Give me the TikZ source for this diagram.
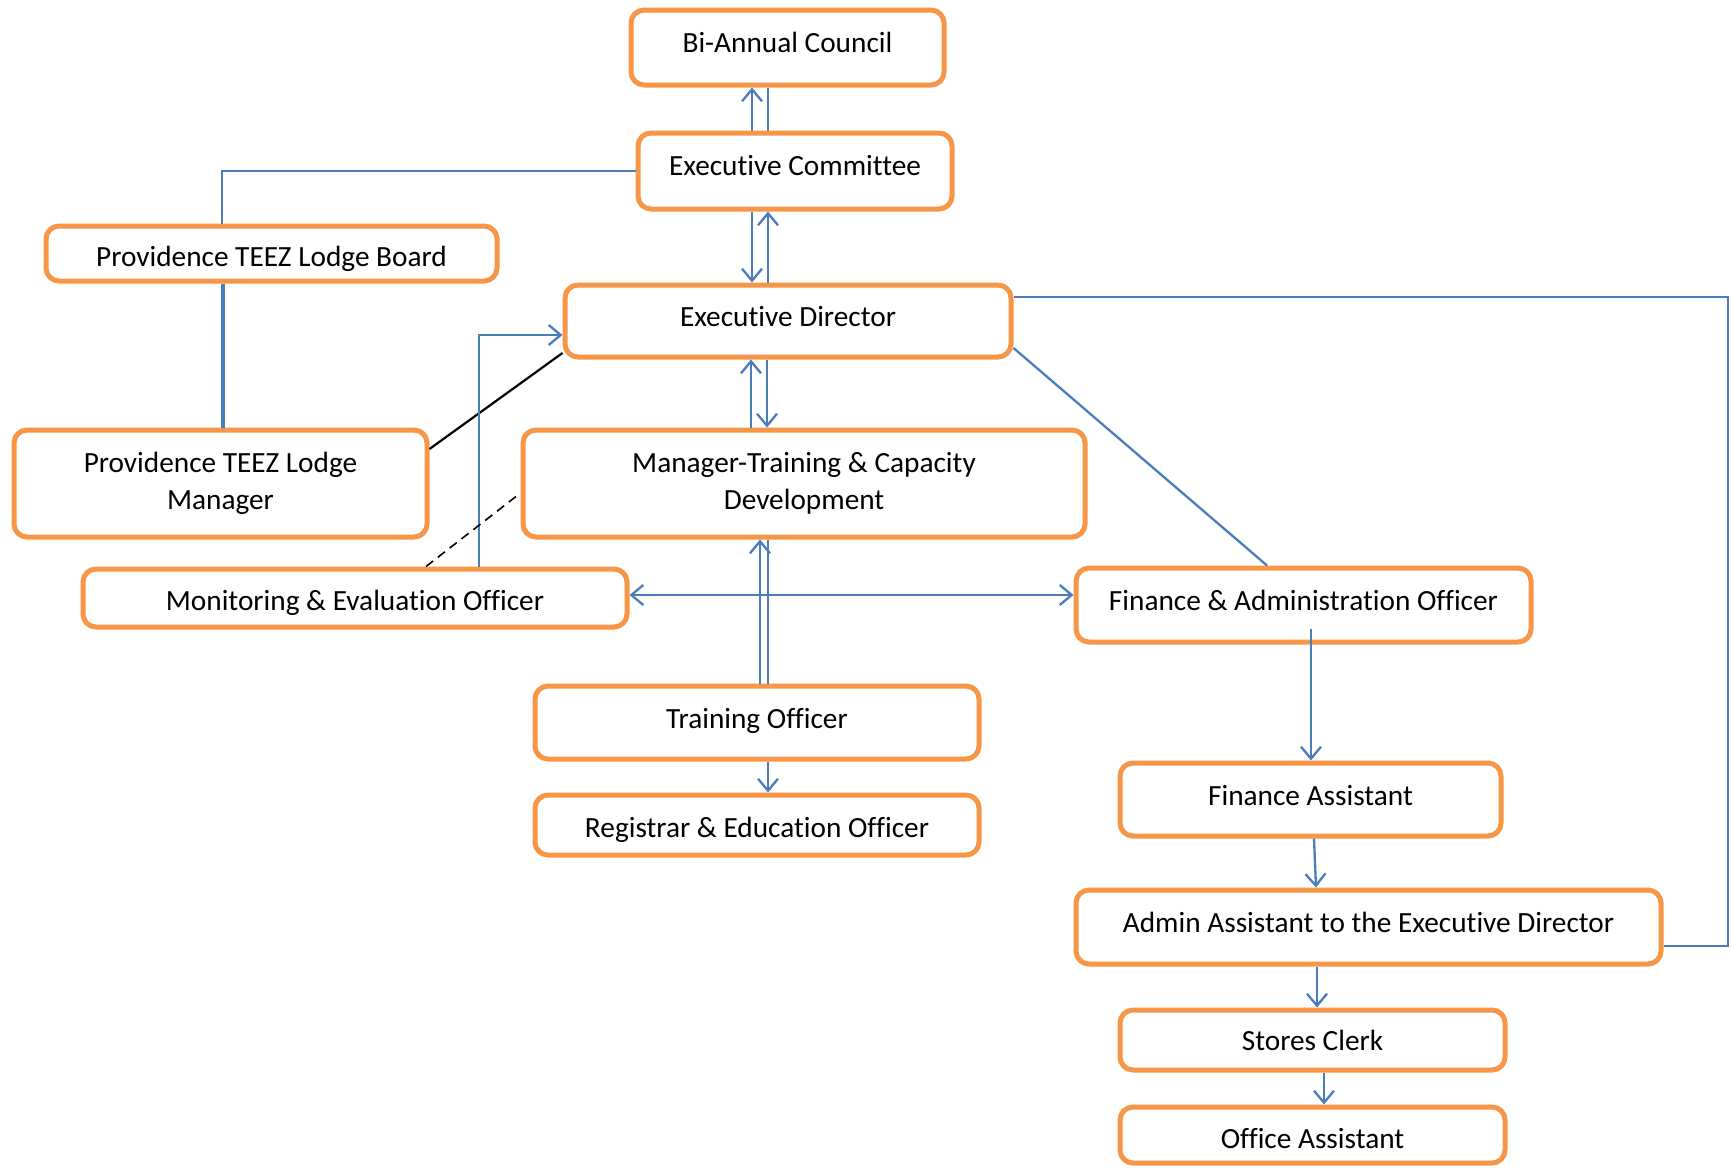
\documentclass[tikz,border=0pt]{standalone}
\usepackage{fontspec}
\setmainfont{Carlito}[Ligatures={NoCommon}]
\usetikzlibrary{arrows.meta}
\definecolor{boxorange}{HTML}{F79646}
\definecolor{lineblue}{HTML}{4A7EBB}
\tikzset{
  box/.style={draw=boxorange, line width=5pt, rounded corners=13pt, fill=white,
    align=center, inner sep=0pt, font=\fontsize{29.3}{37.5}\selectfont},
  conn/.style={draw=lineblue, line width=2.3pt},
  arr/.style={conn, -{Straight Barb[length=12pt,width=20pt,line width=2.3pt]}},
  darr/.style={conn, {Straight Barb[length=12pt,width=20pt,line width=2.3pt]}-{Straight Barb[length=12pt,width=20pt,line width=2.3pt]}},
}
\newcommand\rbx[2]{\raisebox{#1}{#2}}
\begin{document}
\begin{tikzpicture}[x=1pt,y=-1pt]
\useasboundingbox[fill=white] (0,0) rectangle (1731,1167);
% boxes
\node[box, minimum width=313pt, minimum height=75pt] (bac) at (787.5,47.5) {\rbx{11pt}{Bi-Annual Council}};
\node[box, minimum width=314pt, minimum height=76pt] (ec) at (795,171) {\rbx{11pt}{Executive Committee}};
\node[box, minimum width=451pt, minimum height=55pt, text height=31pt, text depth=6pt] (board) at (271.5,253.5) {Providence TEEZ Lodge Board};
\node[box, minimum width=446pt, minimum height=72pt] (ed) at (788,321) {\rbx{9pt}{Executive Director}};
\node[box, minimum width=413pt, minimum height=107pt] (lm) at (220.5,483.5) {Providence TEEZ Lodge\\Manager};
\node[box, minimum width=562pt, minimum height=107pt] (mtcd) at (804,483.5) {Manager-Training \& Capacity\\Development};
\node[box, minimum width=544pt, minimum height=58pt, text height=31pt, text depth=6pt] (me) at (355,598) {Monitoring \& Evaluation Officer};
\node[box, minimum width=455pt, minimum height=74pt] (fao) at (1303.5,605) {\rbx{9pt}{Finance \& Administration Officer}};
\node[box, minimum width=444pt, minimum height=73pt, text height=22pt, text depth=10.5pt] (to) at (757,722.5) {Training Officer};
\node[box, minimum width=444pt, minimum height=60pt, text height=31pt, text depth=6pt] (reg) at (757,825) {Registrar \& Education Officer};
\node[box, minimum width=381pt, minimum height=73pt] (fa) at (1310.5,799.5) {\rbx{9pt}{Finance Assistant}};
\node[box, minimum width=585pt, minimum height=74pt] (aa) at (1368.5,927) {\rbx{9pt}{Admin Assistant to the Executive Director}};
\node[box, minimum width=385pt, minimum height=60pt] (sc) at (1312.5,1040) {Stores Clerk};
\node[box, minimum width=385pt, minimum height=56pt, text height=27.6pt, text depth=0pt] (oa) at (1312.5,1135) {Office Assistant};
% connectors
\draw[arr] (ec.north -| 752,0) -- (bac.south -| 752,0);
\draw[conn] (ec.north -| 768,0) -- (bac.south -| 768,0);
\draw[arr] (ec.south -| 752,0) -- (ed.north -| 752,0);
\draw[arr] (ed.north -| 768,0) -- (ec.south -| 768,0);
\draw[conn] (ec.west) -| (board.north -| 222,0);
\draw[draw=lineblue, line width=4pt] (board.south -| 223,0) -- (lm.north -| 223,0);
\draw[black, line width=2.2pt] (lm.east |- 0,449) -- (ed.west |- 0,353);
\draw[arr] (me.north -| 479,0) |- (ed.west |- 0,335);
\draw[black, line width=1.6pt, dash pattern=on 9pt off 6pt] (me.north -| 426,0) -- (mtcd.west |- 0,493);
\draw[arr] (mtcd.north -| 751,0) -- (ed.south -| 751,0);
\draw[arr] (ed.south -| 767,0) -- (mtcd.north -| 767,0);
\draw[conn] (ed.east |- 0,348) -- (fao.north -| 1267,0);
\coordinate (rtop) at (1728,297);
\coordinate (rbot) at (1728,946);
\draw[conn] (ed.east |- rtop) -- (rtop) -- (rbot) -- (aa.east |- rbot);
\draw[darr] (me.east |- 0,595) -- (fao.west |- 0,595);
\draw[arr] (to.north -| 760,0) -- (mtcd.south -| 760,0);
\draw[conn] (to.north -| 768,0) -- (mtcd.south -| 768,0);
\draw[arr] (to.south -| 768,0) -- (reg.north -| 768,0);
\coordinate (faostart) at (1311,629);
\draw[arr] (faostart) -- (fa.north -| faostart);
\draw[arr] (fa.south -| 1314,0) -- (aa.north -| 1316,0);
\draw[arr] (aa.south -| 1317,0) -- (sc.north -| 1317,0);
\draw[arr] (sc.south -| 1324,0) -- (oa.north -| 1324,0);
\end{tikzpicture}
\end{document}
